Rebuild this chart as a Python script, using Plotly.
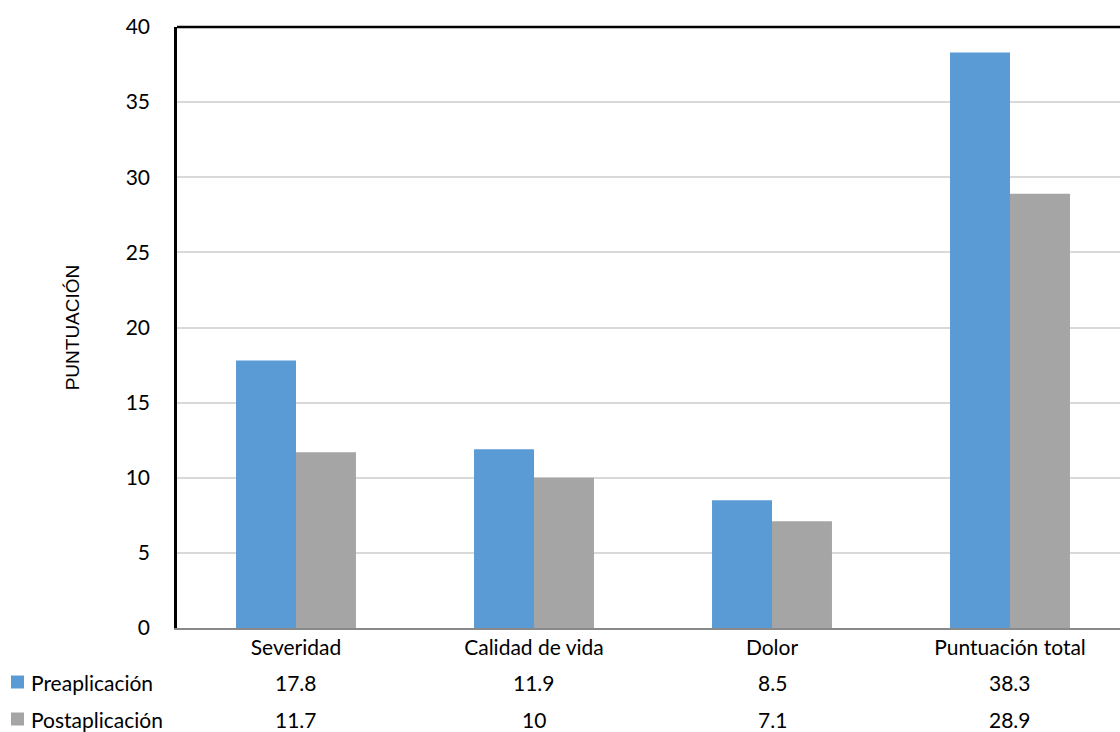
import plotly.graph_objects as go

categories = ["Severidad", "Calidad de vida", "Dolor", "Puntuación total"]
series_names = ["Preaplicación", "Postaplicación"]
pre_values = [17.8, 11.9, 8.5, 38.3]
post_values = [11.7, 10, 7.1, 28.9]
y_ticks = [0, 5, 10, 15, 20, 25, 30, 35, 40]

colors = ["#5B9BD5", "#A5A5A5"]
font_main = "Lato, Calibri, Carlito, sans-serif"
fs = 21

W, H = 1120, 732
L, T, B, R = 177, 27, 104, 0
plot_w = W - L - R
plot_h = H - T - B

fig = go.Figure()
for name, vals, col in zip(series_names, [pre_values, post_values], colors):
    fig.add_trace(go.Bar(x=categories, y=vals, name=name, marker=dict(color=col, line=dict(width=0)),
                         showlegend=False))

def px_to_paper_x(px):
    return (px - L) / plot_w

def px_to_paper_y(py):
    return (H - B - py) / plot_h

annotations = []
shapes = []
row_y = [682, 719]
for i, (name, vals, col) in enumerate(zip(series_names, [pre_values, post_values], colors)):
    yp = px_to_paper_y(row_y[i])
    # legend key
    shapes.append(dict(type="rect", xref="paper", yref="paper",
                       x0=px_to_paper_x(11), x1=px_to_paper_x(24),
                       y0=yp - 6.5 / plot_h, y1=yp + 6.5 / plot_h,
                       fillcolor=col, line=dict(width=0)))
    annotations.append(dict(text=name, xref="paper", yref="paper", x=px_to_paper_x(29), y=yp,
                            xanchor="left", yanchor="middle", showarrow=False,
                            font=dict(size=fs, color="#000", family=font_main)))
    for cat, v in zip(categories, vals):
        annotations.append(dict(text=f"{v:g}", xref="x", yref="paper", x=cat, y=yp,
                                xanchor="center", yanchor="middle", showarrow=False,
                                font=dict(size=fs, color="#000", family=font_main)))

# top frame line
shapes.append(dict(type="line", xref="paper", yref="paper", x0=0, x1=1, y0=1, y1=1,
                   line=dict(color="#000", width=2.5)))

fig.update_layout(
    width=W, height=H,
    margin=dict(l=L, r=R, t=T, b=B),
    paper_bgcolor="white", plot_bgcolor="white",
    barmode="group", bargap=0.496, bargroupgap=0,
    annotations=annotations, shapes=shapes,
    xaxis=dict(range=[-0.5, -0.5 + plot_w / 238], showgrid=False, showline=True,
               linecolor="#898989", linewidth=2, ticks="", ticklen=0,
               tickfont=dict(size=fs, color="#000", family=font_main)),
    yaxis=dict(range=[0, 40], tickvals=y_ticks, showgrid=True, gridcolor="#D9D9D9", gridwidth=1.5,
               zeroline=False, showline=True, linecolor="#000", linewidth=2.5,
               ticks="outside", ticklen=20, tickcolor="rgba(0,0,0,0)",
               tickfont=dict(size=fs, color="#000", family=font_main),
               title=dict(text="PUNTUACIÓN", standoff=42,
                          font=dict(size=19, color="#000", family="Liberation Sans, Arial, sans-serif"))),
)

fig.write_html("out.html")
